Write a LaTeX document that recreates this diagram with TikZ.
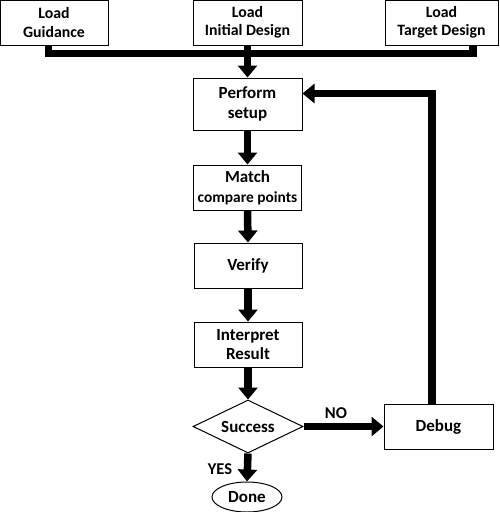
\documentclass[tikz,border=0pt]{standalone}
\usepackage{fontspec}
\setmainfont{Carlito}
\usetikzlibrary{arrows.meta,shapes.geometric}
\begin{document}
\begin{tikzpicture}[x=1pt,y=-1pt,
  every node/.style={font=\fontsize{17}{19.5}\selectfont\bfseries, align=center, inner sep=0pt},
  topfont/.style={font=\fontsize{15.8}{18.5}\selectfont\bfseries},
  box/.style={draw, line width=1pt, minimum width=#1, minimum height=45pt},
  box/.default=109pt,
  bus/.style={line width=7.5pt},
  flow/.style={line width=7.5pt, -{Triangle[width=19pt,length=12pt]}}]
\useasboundingbox (0,0) rectangle (500,512);
% top row
\node[box=108pt, topfont] (lg) at (54,22.5) {Load\\Guidance};
\node[box=109pt, topfont] (li) at (247.5,22.5) {Load\\Initial Design};
\node[box=113pt, topfont] (lt) at (441.5,22.5) {Load\\Target Design};
% main column
\node[box=109pt, minimum height=52pt] (ps) at (247.5,104) {Perform\\setup};
\node[box=108pt] (mc) at (247.5,187.5) {Match\\{\fontsize{15.4}{18}\selectfont compare points}};
\node[box=108pt] (vf) at (248,265.5) {Verify};
\node[box=108pt] (ir) at (248,344.5) {Interpret\\Result};
\node[draw, line width=1pt, diamond, aspect=2.07, minimum width=110pt, minimum height=53pt] (sc) at (248,426.5) {Success};
\node[draw, line width=1pt, ellipse, minimum width=70pt, minimum height=30pt] (dn) at (247,497) {Done};
\node[box=109pt] (db) at (438.5,426.5) {Debug};
% bus
\coordinate (b1) at (48.5,53.5);
\coordinate (b2) at (473,53.5);
\draw[bus] (b1 |- lg.south) -- (b1) -- (b2) -- (b2 |- lt.south);
\draw[flow] (li.south) -- (ps.north);
% chain
\draw[flow] (ps.south) -- (mc.north);
\draw[flow] (mc.south) -- (vf.north);
\draw[flow] (vf.south) -- (ir.north);
\draw[flow] (ir.south) -- (sc.north);
\draw[flow] (sc.south) -- (dn.north);
\draw[flow] (sc.east) -- (db.west);
% return loop
\coordinate (r) at (432,93.5);
\draw[flow] (db.north -| r) -- (r) -- (ps.east |- r);
% labels
\node[font=\fontsize{16.5}{19}\selectfont\bfseries] (no) at (336,413) {NO};
\node[font=\fontsize{16.5}{19}\selectfont\bfseries] (yes) at (220,469) {YES};
\end{tikzpicture}
\end{document}
